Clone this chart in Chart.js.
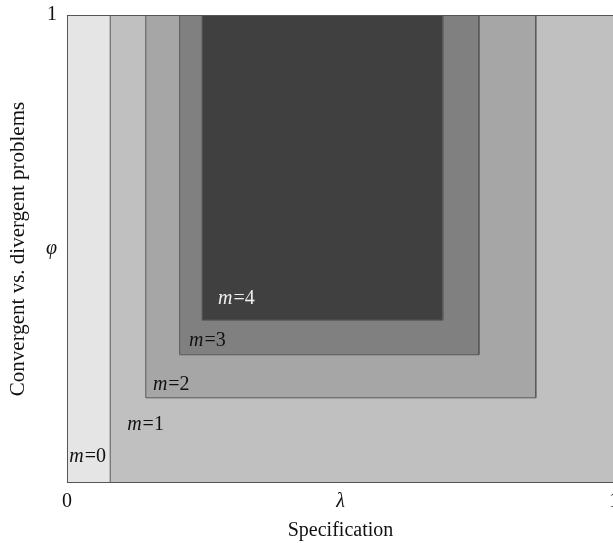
<!DOCTYPE html>
<html>
<head>
<meta charset="utf-8">
<script src="https://cdn.jsdelivr.net/npm/chart.js@4"></script>
<style>
  body { margin: 0; background: #fff; }
  #wrap { width: 613px; height: 543px; overflow: hidden; }
</style>
</head>
<body>
<div id="wrap"><canvas id="regions" width="640" height="543"></canvas></div>
<script>
// nested regions, one per m
const levels = [0, 1, 2, 3, 4];
const xStart = [0, 0.079, 0.144, 0.206, 0.247];
const xEnd = [1, 1, 0.857, 0.753, 0.687];
const yStart = [0, 0, 0.182, 0.274, 0.348];
const yEnd = [1, 1, 1, 1, 1];
const fills = ['#e5e5e5', '#c0c0c0', '#a6a6a6', '#808080', '#404040'];
const labelX = [0.004, 0.11, 0.157, 0.223, 0.276];
const labelY = [0.056, 0.124, 0.21, 0.304, 0.393];
const labelColors = ['#111', '#111', '#111', '#111', '#eee'];

const xTicks = [0, 0.5, 1];
const xTickText = ['0', 'λ', '1'];
const yTicks = [0, 0.5, 1];
const yTickText = ['', 'φ', '1'];

const serif = '"Liberation Serif", "DejaVu Serif", serif';

const datasets = levels.map(function(m, i) {
    return {
        label: 'm=' + m,
        data: [
            { x: xStart[i], y: yStart[i] },
            { x: xStart[i], y: yEnd[i] },
            { x: xEnd[i], y: yEnd[i] },
            { x: xEnd[i], y: yStart[i] },
            { x: xStart[i], y: yStart[i] }
        ],
        showLine: true,
        fill: 'shape',
        backgroundColor: fills[i],
        borderColor: '#5a5a5a',
        borderWidth: 1,
        pointRadius: 0,
        tension: 0,
        order: 10 - m
    };
});

// frame round the axes + the m=.. labels
const frameAndLabels = {
    id: 'frameAndLabels',
    afterDatasetsDraw(chart) {
        const { ctx, chartArea: a, scales } = chart;
        ctx.save();
        ctx.strokeStyle = '#555';
        ctx.lineWidth = 1;
        ctx.strokeRect(a.left + 0.5, a.top + 0.5, a.right - a.left, a.bottom - a.top - 1);

        ctx.textBaseline = 'middle';
        ctx.textAlign = 'left';
        levels.forEach(function(m, i) {
            const px = scales.x.getPixelForValue(labelX[i]);
            const py = scales.y.getPixelForValue(labelY[i]);
            ctx.fillStyle = labelColors[i];
            ctx.font = 'italic 20px ' + serif;
            ctx.fillText('m', px, py);
            const w = ctx.measureText('m').width;
            ctx.font = '20px ' + serif;
            ctx.fillText('=' + m, px + w + 1, py);
        });
        ctx.restore();
    }
};

new Chart(document.getElementById('regions').getContext('2d'), {
    type: 'scatter',
    data: { datasets: datasets },
    options: {
        responsive: false,
        animation: false,
        layout: { padding: { left: 0, top: 15, right: 26, bottom: 0 } },
        plugins: {
            legend: { display: false },
            tooltip: { enabled: false }
        },
        scales: {
            x: {
                type: 'linear',
                min: 0,
                max: 1,
                grid: { display: false, drawTicks: false },
                border: { display: false },
                afterBuildTicks: function(scale) { scale.ticks = xTicks.map(v => ({ value: v })); },
                afterFit: function(scale) {
                    scale.height = 60;
                    scale.paddingLeft = 0;
                    scale.paddingRight = 0;
                },
                ticks: {
                    padding: 7,
                    color: '#111',
                    maxRotation: 0,
                    autoSkip: false,
                    callback: function(v) { const k = xTicks.indexOf(v); return k < 0 ? '' : xTickText[k]; },
                    font: function(c) {
                        return { family: serif, size: 20, style: c.tick && c.tick.value === 0.5 ? 'italic' : 'normal' };
                    }
                },
                title: {
                    display: true,
                    text: 'Specification',
                    color: '#111',
                    font: { family: serif, size: 20 },
                    padding: { top: 0, bottom: 0 }
                }
            },
            y: {
                type: 'linear',
                min: 0,
                max: 1,
                grid: { display: false, drawTicks: false },
                border: { display: false },
                afterBuildTicks: function(scale) { scale.ticks = yTicks.map(v => ({ value: v })); },
                afterFit: function(scale) {
                    scale.width = 67;
                    scale.paddingTop = 0;
                    scale.paddingBottom = 0;
                },
                ticks: {
                    padding: 10,
                    color: '#111',
                    autoSkip: false,
                    callback: function(v) { const k = yTicks.indexOf(v); return k < 0 ? '' : yTickText[k]; },
                    font: function(c) {
                        return { family: serif, size: 20, style: c.tick && c.tick.value === 0.5 ? 'italic' : 'normal' };
                    }
                },
                title: {
                    display: true,
                    text: 'Convergent vs. divergent problems',
                    color: '#111',
                    font: { family: serif, size: 21 },
                    padding: { top: 6, bottom: 0 }
                }
            }
        }
    },
    plugins: [frameAndLabels]
});
</script>
</body>
</html>
